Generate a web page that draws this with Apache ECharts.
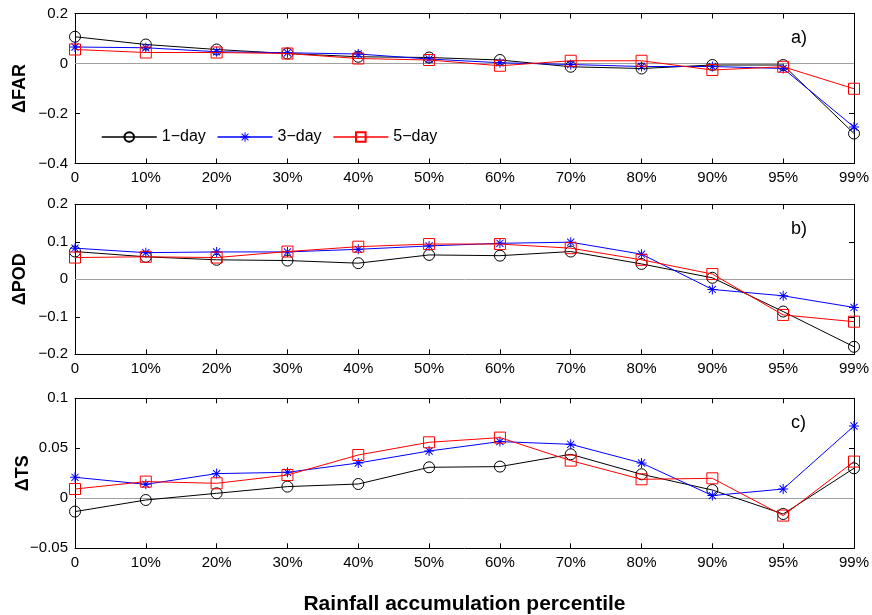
<!DOCTYPE html>
<html>
<head>
<meta charset="utf-8">
<script src="https://cdn.jsdelivr.net/npm/echarts@6/dist/echarts.min.js"></script>
<style>
  html, body { margin: 0; padding: 0; background: #fff; }
  #chart { width: 872px; height: 615px; }
</style>
</head>
<body>
<div id="chart"></div>
<script>
// Percentile classes along the x axis
const percentiles = ['0', '10%', '20%', '30%', '40%', '50%', '60%', '70%', '80%', '90%', '95%', '99%'];
const seriesNames = ['1\u2212day', '3\u2212day', '5\u2212day'];

// ΔFAR
const far1 = [0.107, 0.076, 0.056, 0.040, 0.027, 0.024, 0.014, -0.013, -0.020, -0.006, -0.006, -0.280];
const far3 = [0.066, 0.063, 0.047, 0.043, 0.038, 0.018, 0.003, -0.004, -0.012, -0.012, -0.020, -0.254];
const far5 = [0.056, 0.044, 0.044, 0.040, 0.020, 0.014, -0.009, 0.011, 0.011, -0.026, -0.013, -0.101];

// ΔPOD
const pod1 = [0.074, 0.060, 0.052, 0.050, 0.043, 0.065, 0.063, 0.074, 0.041, 0.004, -0.086, -0.180];
const pod3 = [0.083, 0.071, 0.073, 0.073, 0.080, 0.089, 0.096, 0.099, 0.067, -0.027, -0.044, -0.075];
const pod5 = [0.058, 0.060, 0.058, 0.074, 0.087, 0.094, 0.094, 0.083, 0.052, 0.014, -0.095, -0.113];

// ΔTS
const ts1 = [-0.0133, -0.0017, 0.0050, 0.0117, 0.0143, 0.0310, 0.0317, 0.0440, 0.0240, 0.0083, -0.0157, 0.0300];
const ts3 = [0.0210, 0.0140, 0.0247, 0.0260, 0.0353, 0.0473, 0.0567, 0.0540, 0.0353, 0.0027, 0.0093, 0.0723];
const ts5 = [0.0093, 0.0167, 0.0150, 0.0233, 0.0433, 0.0560, 0.0607, 0.0377, 0.0190, 0.0200, -0.0173, 0.0367];

// Panel definitions: y label, range, tick step, corner tag
const panelNames = ['\u0394FAR', '\u0394POD', '\u0394TS'];
const panelTags = ['a)', 'b)', 'c)'];
const panelMin = [-0.4, -0.2, -0.05];
const panelMax = [0.2, 0.2, 0.1];
const panelStep = [0.2, 0.1, 0.05];
const panelNameGap = [46, 46, 43];
const panelData = [[far1, far3, far5], [pod1, pod3, pod5], [ts1, ts3, ts5]];

const FONT = 'Liberation Sans, Arial, sans-serif';
const colors = ['#000000', '#0000ff', '#ff0000'];
// Eight-armed asterisk marker
const asterisk = 'path://M45 0L55 0L55 100L45 100Z M0 45L100 45L100 55L0 55Z M11 18L18 11L89 82L82 89Z M82 11L89 18L18 89L11 82Z';
const symbols = ['circle', asterisk, 'rect'];
const symbolSizes = [11, 10, 11];

const gridTops = [13.5, 204.3, 398.3];
const gridH = 150;

const fmt = v => {
  const s = String(Math.round(v * 1000) / 1000);
  return s.replace('-', '\u2212');
};

const grids = [], xAxes = [], yAxes = [], series = [], graphics = [];

gridTops.forEach((top, p) => {
  grids.push({ left: 75, right: 18, top: top, height: gridH, containLabel: false, outerBoundsMode: 'none' });

  const tickStyle = { show: true, inside: true, length: 5, lineStyle: { color: '#000', width: 1 } };
  // bottom category axis
  xAxes.push({
    type: 'category', gridIndex: p, data: percentiles, boundaryGap: false, position: 'bottom',
    axisLine: { show: true, onZero: false, lineStyle: { color: '#000', width: 1 } },
    axisTick: tickStyle,
    axisLabel: { color: '#000', fontSize: 15, fontFamily: FONT, margin: 7, interval: 0 },
    splitLine: { show: false },
    name: p === 2 ? 'Rainfall accumulation percentile' : '',
    nameLocation: 'middle', nameGap: 45,
    nameTextStyle: { color: '#000', fontSize: 21, fontWeight: 'bold', fontFamily: FONT }
  });
  // top mirror axis (ticks only)
  xAxes.push({
    type: 'category', gridIndex: p, data: percentiles, boundaryGap: false, position: 'top',
    axisLine: { show: true, onZero: false, lineStyle: { color: '#000', width: 1 } },
    axisTick: tickStyle, axisLabel: { show: false }, splitLine: { show: false }
  });
  // left value axis
  yAxes.push({
    type: 'value', gridIndex: p, min: panelMin[p], max: panelMax[p], interval: panelStep[p], position: 'left',
    axisLine: { show: true, onZero: false, lineStyle: { color: '#000', width: 1 } },
    axisTick: tickStyle,
    axisLabel: { color: '#000', fontSize: 15, fontFamily: FONT, margin: 7, formatter: fmt },
    splitLine: { show: false },
    name: panelNames[p], nameLocation: 'middle', nameGap: panelNameGap[p], nameRotate: 90,
    nameMoveOverlap: false,
    nameTextStyle: { color: '#000', fontSize: 18, fontWeight: 'bold', fontFamily: FONT }
  });
  // right mirror axis (ticks only)
  yAxes.push({
    type: 'value', gridIndex: p, min: panelMin[p], max: panelMax[p], interval: panelStep[p], position: 'right',
    axisLine: { show: true, onZero: false, lineStyle: { color: '#000', width: 1 } },
    axisTick: tickStyle, axisLabel: { show: false }, splitLine: { show: false }
  });

  panelData[p].forEach((vals, s) => {
    const item = {
      name: seriesNames[s], type: 'line', xAxisIndex: 2 * p, yAxisIndex: 2 * p,
      data: vals, symbol: symbols[s], symbolSize: symbolSizes[s], showAllSymbol: true,
      lineStyle: { color: colors[s], width: 1 },
      itemStyle: s === 1
        ? { color: colors[s], borderWidth: 0 }
        : { color: 'rgba(255,255,255,0)', borderColor: colors[s], borderWidth: 1 },
      z: 3 + s, animation: false
    };
    if (s === 0) {
      item.markLine = {
        silent: true, symbol: 'none', label: { show: false }, animation: false,
        lineStyle: { color: '#a0a0a0', width: 1, type: 'solid' },
        data: [{ yAxis: 0 }], z: 1
      };
    }
    series.push(item);
  });

  graphics.push({
    type: 'text', left: 791, top: top + 16,
    style: { text: panelTags[p], font: '18px ' + FONT, fill: '#000' }
  });
});

const chart = echarts.init(document.getElementById('chart'), null, { renderer: 'canvas' });
chart.setOption({
  animation: false,
  backgroundColor: '#fff',
  grid: grids, xAxis: xAxes, yAxis: yAxes, series: series, graphic: graphics,
  legend: {
    data: seriesNames, left: 96, top: 124, itemWidth: 55, itemHeight: 12, itemGap: 11,
    textStyle: { color: '#000', fontSize: 16, fontFamily: FONT },
    lineStyle: { width: 1.5 },
    backgroundColor: 'rgba(255,255,255,0)'
  }
});
</script>
</body>
</html>
